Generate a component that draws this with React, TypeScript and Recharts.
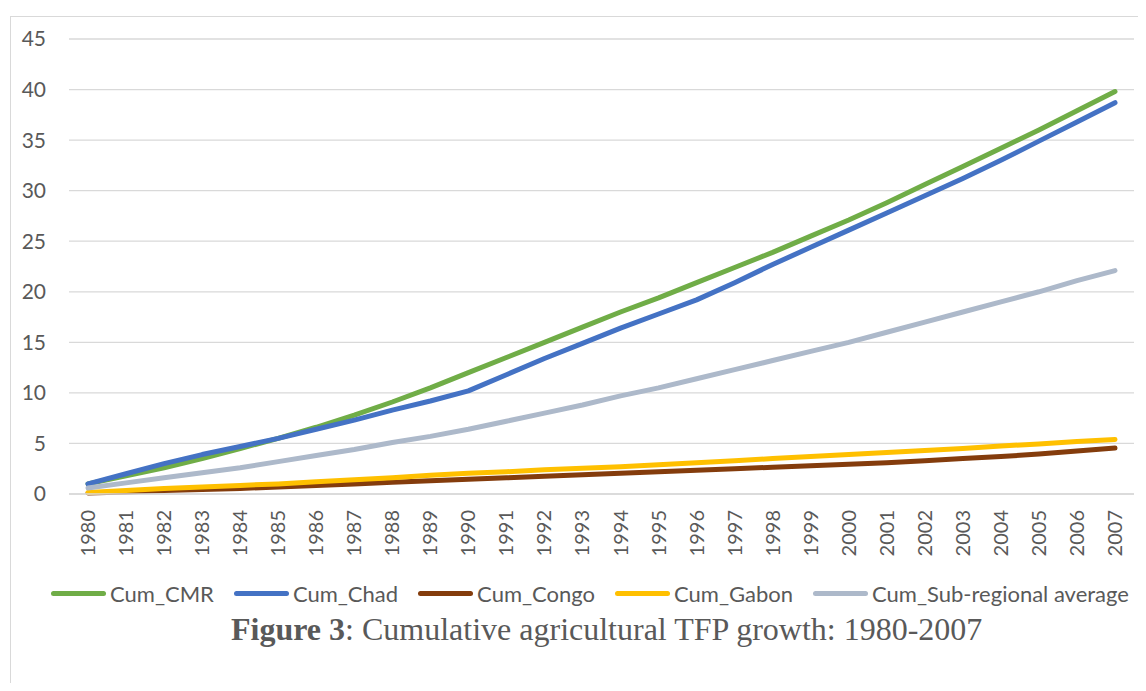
import { LineChart, Line, XAxis, YAxis, CartesianGrid, Legend } from 'recharts';

const years = [
    '1980', '1981', '1982', '1983', '1984', '1985', '1986', '1987', '1988', '1989',
    '1990', '1991', '1992', '1993', '1994', '1995', '1996', '1997', '1998', '1999',
    '2000', '2001', '2002', '2003', '2004', '2005', '2006', '2007'
];

const cumCMR = [
    1.0, 1.8, 2.6, 3.5, 4.5, 5.5, 6.6, 7.8, 9.1, 10.5,
    12.0, 13.5, 15.0, 16.5, 18.0, 19.4, 20.9, 22.4, 23.9, 25.5,
    27.1, 28.8, 30.6, 32.4, 34.2, 36.0, 37.9, 39.8
];

const cumChad = [
    1.0, 2.0, 3.0, 3.9, 4.7, 5.5, 6.4, 7.3, 8.3, 9.2,
    10.2, 11.8, 13.4, 14.9, 16.4, 17.8, 19.2, 20.9, 22.7, 24.4,
    26.1, 27.8, 29.5, 31.2, 33.0, 34.9, 36.8, 38.7
];

const cumCongo = [
    0.1, 0.2, 0.35, 0.45, 0.55, 0.7, 0.85, 1.0, 1.15, 1.3,
    1.45, 1.6, 1.75, 1.9, 2.05, 2.2, 2.35, 2.5, 2.65, 2.8,
    2.95, 3.1, 3.3, 3.5, 3.7, 3.95, 4.25, 4.55
];

const cumGabon = [
    0.15, 0.35, 0.55, 0.7, 0.85, 1.0, 1.2, 1.4, 1.6, 1.85,
    2.05, 2.2, 2.4, 2.55, 2.7, 2.9, 3.1, 3.3, 3.5, 3.7,
    3.9, 4.1, 4.3, 4.5, 4.75, 4.95, 5.2, 5.4
];

const cumSubRegional = [
    0.6, 1.1, 1.6, 2.1, 2.6, 3.2, 3.8, 4.4, 5.1, 5.7,
    6.4, 7.2, 8.0, 8.8, 9.7, 10.5, 11.4, 12.3, 13.2, 14.1,
    15.0, 16.0, 17.0, 18.0, 19.0, 20.0, 21.1, 22.1
];

const yTicks = [0, 5, 10, 15, 20, 25, 30, 35, 40, 45];

const series = [
    { key: 'cmr', name: 'Cum_CMR', color: '#70AD47', values: cumCMR },
    { key: 'chad', name: 'Cum_Chad', color: '#4472C4', values: cumChad },
    { key: 'congo', name: 'Cum_Congo', color: '#843C0C', values: cumCongo },
    { key: 'gabon', name: 'Cum_Gabon', color: '#FFC000', values: cumGabon },
    { key: 'sub', name: 'Cum_Sub-regional average', color: '#ADB9CA', values: cumSubRegional }
];

const chartData = years.map((year, i) => {
    const row: Record<string, string | number> = { year };
    series.forEach(s => { row[s.key] = s.values[i]; });
    return row;
});

const FONT = 'Lato, "Noto Sans", sans-serif';
const TEXT_COLOR = '#595959';
const GRID_COLOR = '#d9d9d9';

function YearTick({ x, y, payload }: any) {
    return (
        <g transform={`translate(${x},${y})`}>
            <text
                transform="rotate(-90)"
                x={-16}
                y={0}
                dy="0.35em"
                textAnchor="end"
                fill={TEXT_COLOR}
                fontSize={20}
                fontFamily={FONT}
            >
                {payload.value}
            </text>
        </g>
    );
}

function renderLegend() {
    return (
        <div style={{ display: 'flex', alignItems: 'center', height: 30, paddingLeft: 43, gap: 20, fontFamily: FONT, fontSize: 22, color: TEXT_COLOR }}>
            {series.map(s => (
                <div key={s.key} style={{ display: 'flex', alignItems: 'center' }}>
                    <span style={{ display: 'inline-block', width: 55, height: 5, borderRadius: 3, background: s.color, marginRight: 4 }} />
                    <span>{s.name}</span>
                </div>
            ))}
        </div>
    );
}

export default function App() {
    return (
        <div style={{ position: 'relative', width: 1130, height: 675 }}>
            <div style={{ position: 'absolute', left: 2, top: 8, width: 1128, height: 667, borderTop: `1px solid ${GRID_COLOR}`, borderLeft: `1px solid ${GRID_COLOR}` }} />
            <div style={{ position: 'absolute', left: 0, top: 0 }}>
                <LineChart width={1130} height={600} data={chartData} margin={{ top: 31, right: 4, left: 21, bottom: 0 }}>
                    <CartesianGrid vertical={false} stroke={GRID_COLOR} strokeWidth={1.3} />
                    <XAxis
                        dataKey="year"
                        height={84}
                        padding={{ left: 19, right: 19 }}
                        axisLine={{ stroke: GRID_COLOR, strokeWidth: 1.3 }}
                        tickLine={false}
                        tickSize={0}
                        tickMargin={0}
                        interval={0}
                        tick={<YearTick />}
                    />
                    <YAxis
                        width={40}
                        domain={[0, 45]}
                        ticks={yTicks}
                        axisLine={false}
                        tickLine={false}
                        tickSize={0}
                        tickMargin={23}
                        tick={{ fontSize: 21, fill: TEXT_COLOR, fontFamily: FONT }}
                    />
                    <Legend verticalAlign="bottom" height={30} wrapperStyle={{ left: 0, width: 1130 }} content={renderLegend} />
                    {series.map(s => (
                        <Line
                            key={s.key}
                            type="linear"
                            dataKey={s.key}
                            name={s.name}
                            stroke={s.color}
                            strokeWidth={5}
                            strokeLinecap="round"
                            strokeLinejoin="round"
                            dot={false}
                            activeDot={false}
                            isAnimationActive={false}
                        />
                    ))}
                </LineChart>
            </div>
            <div style={{ position: 'absolute', left: 223, top: 603, fontFamily: '"Liberation Serif", "Times New Roman", serif', fontSize: 32, color: TEXT_COLOR, whiteSpace: 'nowrap' }}>
                <b>Figure 3</b>: Cumulative agricultural TFP growth: 1980-2007
            </div>
        </div>
    );
}
